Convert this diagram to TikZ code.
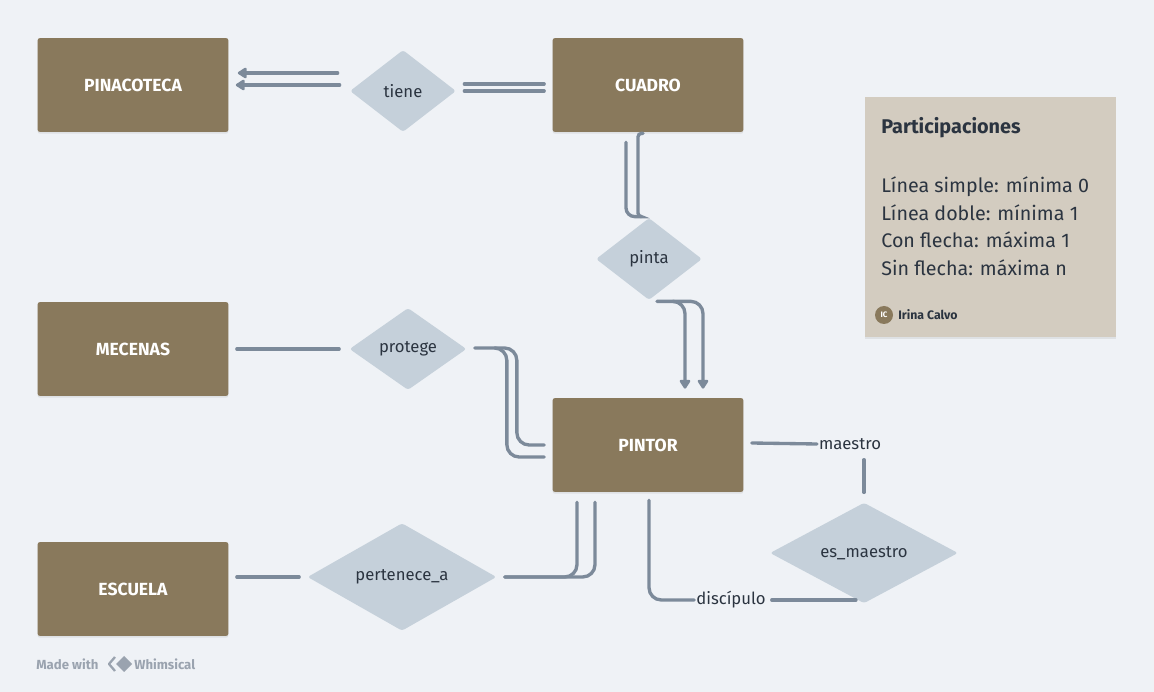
\documentclass[tikz,border=0pt]{standalone}
\usepackage{fontspec}
\setmainfont{Fira Sans}
\usetikzlibrary{shapes.geometric,arrows.meta,calc,shadows}
\definecolor{fondo}{HTML}{EFF2F6}
\definecolor{marron}{HTML}{89795C}
\definecolor{celeste}{HTML}{C5D0DA}
\definecolor{gris}{HTML}{7C8A9A}
\definecolor{texto}{HTML}{2B3440}
\definecolor{nota}{HTML}{D3CCC0}
\definecolor{pie}{HTML}{9AA3AF}
\begin{document}
\begin{tikzpicture}[x=0.02cm, y=-0.02cm,
  entidad/.style={rectangle, rounded corners=1.5pt, fill=marron, text=white,
    font=\bfseries\fontsize{10}{12}\selectfont,
    minimum width=3.82cm, minimum height=1.88cm,
    drop shadow={opacity=0.15, shadow xshift=0pt, shadow yshift=-1pt}},
  relacion/.style={diamond, fill=celeste, text=texto, inner sep=0pt,
    rounded corners=1.5pt, font=\fontsize{9.5}{11}\selectfont},
  linea/.style={draw=gris, line width=1.9pt, line cap=round, rounded corners=5pt},
  flecha/.style={linea, -{Triangle[length=0.2cm, width=0.24cm, round]}},
  etiqueta/.style={text=texto, inner sep=1pt, font=\fontsize{9.5}{11}\selectfont}]
\useasboundingbox[fill=fondo] (0,0) rectangle (1154,692);

\node[entidad] (pina) at (133,85) {PINACOTECA};
\node[entidad] (cuadro) at (648,85) {CUADRO};
\node[entidad] (mecenas) at (133,349) {MECENAS};
\node[entidad] (pintor) at (648,445) {PINTOR};
\node[entidad] (escuela) at (133,589) {ESCUELA};

\node[relacion, minimum width=2.12cm, minimum height=1.64cm] (tiene) at (403,91) {tiene};
\node[relacion, minimum width=2.12cm, minimum height=1.64cm] (pinta) at (649,259) {pinta};
\node[relacion, minimum width=2.34cm, minimum height=1.64cm] (protege) at (408,349) {protege};
\node[relacion, minimum width=3.78cm, minimum height=1.88cm] (pertenece) at (402,577) {pertenece\_a};
\node[relacion, minimum width=3.76cm, minimum height=1.88cm] (esmaestro) at (864,553) {es\_maestro};

\node[etiqueta] (maestro) at (850,444) {maestro};
\node[etiqueta] (discipulo) at (731,600) {discípulo};

\draw[flecha] ($(tiene.west)+(-12,-18)$) -- ($(pina.east)+(9,-12)$);
\draw[flecha] ($(tiene.west)+(-10,-6)$) -- ($(pina.east)+(7,0)$);
\draw[linea] ($(cuadro.west)+(-8,-1)$) -- ($(tiene.east)+(8,-7)$);
\draw[linea] ($(cuadro.west)+(-8,6)$) -- ($(tiene.east)+(8,0)$);

\draw[linea] ($(cuadro.south)+(-22,10)$) |- ($(pinta.north)+(-8,-1)$);
\draw[linea, rounded corners=2pt] ($(cuadro.south)+(-5,1)$) -| ($(pinta.north)+(-11,-1)$) -- ++(3,0);

\draw[flecha, rounded corners=7pt] ($(pinta.south)+(8,1)$) -| ($(pintor.north)+(37,-9)$);
\draw[flecha, rounded corners=7pt] ($(pinta.south)+(24,1)$) -| ($(pintor.north)+(55,-9)$);

\draw[linea] ($(mecenas.east)+(8,0)$) -- ($(protege.west)+(-10,0)$);
\draw[linea, rounded corners=7pt] ($(protege.east)+(8,-1)$) -- ++(32,0) |- ($(pintor.west)+(-8,12)$);
\draw[linea, rounded corners=7pt] ($(protege.east)+(28,-1)$) -- ++(22,0) |- ($(pintor.west)+(-8,0)$);

\draw[linea] ($(escuela.east)+(8,-12)$) -- ($(pertenece.west)+(-8,0)$);
\draw[linea, rounded corners=7pt] ($(pertenece.east)+(8,0)$) -| ($(pintor.south)+(-71,10)$);
\draw[linea, rounded corners=7pt] ($(pertenece.east)+(8,0)$) -| ($(pintor.south)+(-53,10)$);

\draw[linea] ($(pintor.east)+(8,-2)$) -- (maestro.west);
\draw[linea] ($(esmaestro.north)+(0,-10)$) -- ($(esmaestro.north |- maestro.south)+(0,8)$);
\draw[linea, rounded corners=7pt] ($(pintor.south)+(1,8)$) |- (discipulo.west);
\draw[linea] ($(discipulo.east)+(4,0)$) -- ($(discipulo.east -| esmaestro.south)+(-8,0)$);

\node[rectangle, fill=nota, minimum width=5.02cm, minimum height=4.8cm,
  drop shadow={opacity=0.15, shadow xshift=0pt, shadow yshift=-1pt}] (leyenda) at (990.5,217) {};
\node[anchor=west, text=texto, font=\bfseries\fontsize{11.3}{13}\selectfont, inner sep=0pt] (titulo) at (881,128) {Participaciones};
\node[anchor=north west, align=left, text=texto, font=\fontsize{11.2}{15.9}\selectfont, inner sep=0pt] (reglas) at (881,176)
  {Línea simple: mínima 0\\Línea doble: mínima 1\\Con flecha: máxima 1\\Sin flecha: máxima n};
\node[circle, fill=marron, text=white, minimum size=0.36cm, inner sep=0pt, font=\bfseries\fontsize{4.5}{5}\selectfont] (avatar) at (884,315) {IC};
\node[anchor=west, text=texto, font=\bfseries\fontsize{7}{8}\selectfont, inner sep=0pt] (autora) at (898,315) {Irina Calvo};

\node[anchor=west, text=pie, font=\bfseries\fontsize{7.5}{9}\selectfont, inner sep=0pt] (made) at (36,664) {Made with};
\draw[pie, line width=1.3pt, line join=round] (115,657) -- (109,664) -- (115,671);
\fill[pie] (124,656) -- (132,664) -- (124,672) -- (116,664) -- cycle;
\node[anchor=west, text=pie, font=\bfseries\fontsize{7.5}{9}\selectfont, inner sep=0pt] (whim) at (134,664) {Whimsical};
\end{tikzpicture}
\end{document}
